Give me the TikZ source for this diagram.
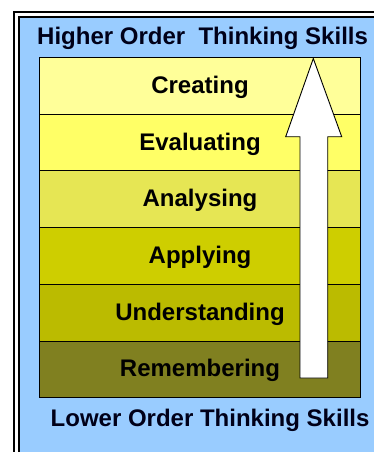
\documentclass[tikz,border=0pt]{standalone}
\usepackage{fontspec}
\setmainfont{Liberation Sans}
\begin{document}
\begin{tikzpicture}[x=1pt,y=-1pt,
  level/.style={draw=black, line width=0.9pt, minimum width=321pt, minimum height=56.7pt,
                inner sep=0pt, outer sep=0pt, anchor=north west},
  lbl/.style={font=\fontsize{24}{24}\selectfont\bfseries, text=black, anchor=base},
  heading/.style={font=\fontsize{24}{24}\selectfont\bfseries, text=navytext, anchor=base west, inner sep=0pt},
  frameline/.style={draw=black, line width=2.2pt}
]
\definecolor{skyback}{RGB}{153,204,255}
\definecolor{navytext}{RGB}{0,0,25}
\definecolor{lvA}{RGB}{255,255,153}
\definecolor{lvB}{RGB}{255,255,102}
\definecolor{lvC}{RGB}{230,230,84}
\definecolor{lvD}{RGB}{206,206,0}
\definecolor{lvE}{RGB}{187,187,0}
\definecolor{lvF}{RGB}{128,128,32}
\useasboundingbox (0,0) rectangle (374,452);
\fill[white] (0,0) rectangle (374,452);
% page frame: double rule on the left and top, blue panel inside
\fill[skyback] (19,18) rectangle (374,452);
\draw[frameline] (14,452) -- (14,12) -- (374,12);
\draw[frameline, line width=2pt] (18.5,452) -- (18.5,17) -- (374,17);
% taxonomy levels, top to bottom
\node[level, fill=lvA] (creating) at (39.5,57.5) {};
\node[level, fill=lvB] (evaluating) at (creating.south west) {};
\node[level, fill=lvC] (analysing) at (evaluating.south west) {};
\node[level, fill=lvD] (applying) at (analysing.south west) {};
\node[level, fill=lvE] (understanding) at (applying.south west) {};
\node[level, fill=lvF] (remembering) at (understanding.south west) {};
\foreach \n/\t in {creating/Creating, evaluating/Evaluating, analysing/Analysing,
                   applying/Applying, understanding/Understanding, remembering/Remembering}
  \node[lbl] (t-\n) at ([yshift=-7.5pt]\n.center) {\t};
% upward arrow
\coordinate (tip) at (313.3,58.5);
\draw[fill=white, line width=0.9pt, line join=miter]
  (tip) -- (341.7,136.7) -- (327.7,136.7) -- (327.7,378) -- (300,378)
  -- (300,136.7) -- (285.7,136.7) -- cycle;
% headings
\node[heading] (higher) at (37,45) {Higher Order\ \ Thinking Skills};
\node[heading] (lower) at (50.5,426) {Lower Order Thinking Skills};
\end{tikzpicture}
\end{document}
